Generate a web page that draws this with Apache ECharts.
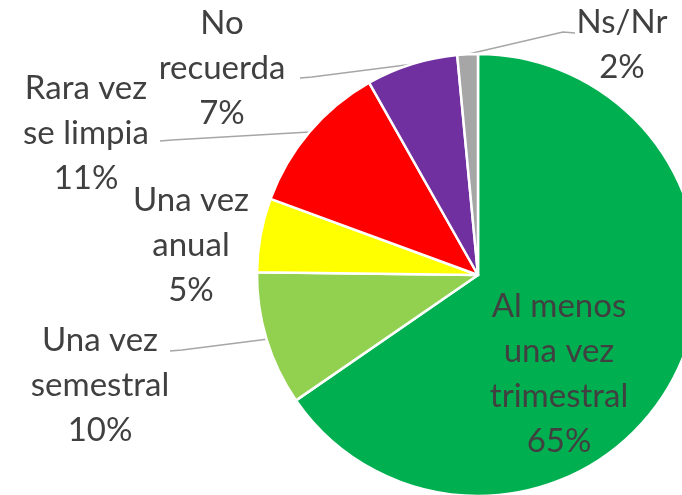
<!DOCTYPE html>
<html><head><meta charset="utf-8">
<script src="https://cdn.jsdelivr.net/npm/echarts@6/dist/echarts.min.js"></script>
<style>html,body{margin:0;padding:0;background:#fff}#c{width:682px;height:495px}</style>
</head><body><div id="c"></div>
<script>
var categories = ['Al menos\nuna vez\ntrimestral', 'Una vez\nsemestral', 'Una vez\nanual', 'Rara vez\nse limpia', 'No\nrecuerda', 'Ns/Nr'];
var values = [65.4, 9.8, 5.4, 11.2, 6.7, 1.5];
var percentLabels = ['65%', '10%', '5%', '11%', '7%', '2%'];
var colors = ['#00B050', '#92D050', '#FFFF00', '#FF0000', '#7030A0', '#A6A6A6'];

// label block centres and leader-line attach points (layout only)
var labelPos = [
  {x: 559, y: 374, line: null},
  {x: 100, y: 385, line: [170, 351]},
  {x: 191, y: 245, line: null},
  {x: 86,  y: 133, line: [160, 141]},
  {x: 222, y: 68,  line: [300, 78]},
  {x: 622, y: 45,  line: [575, 33]}
];

var chart = echarts.init(document.getElementById('c'));
chart.setOption({
  animation: false,
  series: [{
    type: 'pie',
    center: [478, 275],
    radius: 221,
    startAngle: 90,
    clockwise: true,
    avoidLabelOverlap: false,
    data: categories.map(function (c, i) {
      var d = {name: c, value: values[i], itemStyle: {color: colors[i]},
        label: {formatter: c + '\n' + percentLabels[i]}};
      if (!labelPos[i].line) { d.labelLine = {show: false}; }
      if (i === 0) { d.label.position = 'inside'; }
      return d;
    }),
    itemStyle: {borderColor: '#fff', borderWidth: 2.5},
    label: {
      show: true,
      position: 'outside',
      fontFamily: 'Lato',
      fontSize: 33,
      lineHeight: 45,
      color: '#404040',
      align: 'center'
    },
    labelLine: {show: true, length: 10, length2: 10, lineStyle: {color: '#A6A6A6', width: 1.5}},
    labelLayout: function (params) {
      var p = labelPos[params.dataIndex];
      var res = {x: p.x, y: p.y, align: 'center', verticalAlign: 'middle'};
      if (p.line) {
        var a = params.labelLinePoints ? params.labelLinePoints[0] : null;
        if (a) {
          var dir = p.line[0] < a[0] ? 1 : -1;
          res.labelLinePoints = [a, [p.line[0] + dir * 12, p.line[1] - 1], p.line];
        }
      }
      return res;
    }
  }]
});
</script></body></html>
